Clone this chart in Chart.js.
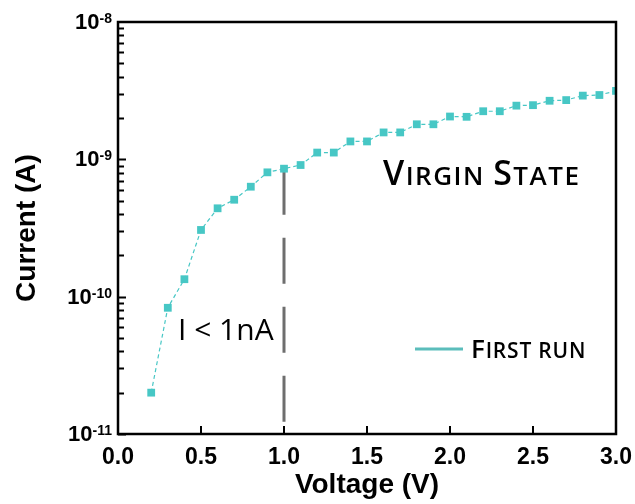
<!DOCTYPE html>
<html>
<head>
<meta charset="utf-8">
<title>Virgin state I-V</title>
<script src="https://cdn.jsdelivr.net/npm/chart.js@4.4.1/dist/chart.umd.min.js"></script>
<style>
  html, body { margin: 0; padding: 0; background: #fff; }
</style>
</head>
<body>
<canvas id="iv-chart" width="635" height="504"></canvas>
<script>
// I-V sweep, first run (virgin state)
const voltage = [0.2, 0.3, 0.4, 0.5, 0.6, 0.7, 0.8, 0.9, 1.0, 1.1, 1.2, 1.3, 1.4, 1.5,
                 1.6, 1.7, 1.8, 1.9, 2.0, 2.1, 2.2, 2.3, 2.4, 2.5, 2.6, 2.7, 2.8, 2.9, 3.0];
const current = [2.0e-11, 8.3e-11, 1.34e-10, 3.06e-10, 4.4e-10, 5.08e-10, 6.32e-10, 8.04e-10,
                 8.55e-10, 9.09e-10, 1.12e-9, 1.12e-9, 1.35e-9, 1.35e-9, 1.57e-9, 1.57e-9,
                 1.8e-9, 1.8e-9, 2.05e-9, 2.04e-9, 2.24e-9, 2.24e-9, 2.46e-9, 2.48e-9,
                 2.67e-9, 2.7e-9, 2.91e-9, 2.94e-9, 3.15e-9];

const thresholdVoltage = 1.0;
const xTicks = [0, 0.5, 1.0, 1.5, 2.0, 2.5, 3.0];
const yExponents = [-11, -10, -9, -8];

const teal = '#47c7c5';
const axisFont = '"Liberation Sans", Arial, sans-serif';
const noteFont = '"Open Sans", sans-serif';

const yMin = Math.pow(10, yExponents[0]);
const yMax = Math.pow(10, yExponents[yExponents.length - 1]);
const thresholdCurrent = current[voltage.indexOf(thresholdVoltage)];

// uppercase letters at full size, the rest as small capitals
function drawSmallCaps(ctx, text, x, y, bigSize, smallSize, spacing) {
    let cx = x;
    for (const ch of text) {
        const isBig = ch !== ' ' && ch === ch.toUpperCase();
        ctx.font = `600 ${isBig ? bigSize : smallSize}px ${noteFont}`;
        const c = ch.toUpperCase();
        ctx.fillText(c, cx, y);
        cx += ctx.measureText(c).width + spacing;
    }
}

const framePlugin = {
    id: 'frame',
    afterDraw(chart) {
        const { ctx, chartArea: area, scales } = chart;
        const xs = scales.x, ys = scales.y;
        ctx.save();
        ctx.strokeStyle = '#000';
        ctx.lineWidth = 2;

        // y ticks: decades long, 2..9 short, pointing inward
        ctx.beginPath();
        for (let e = yExponents[0]; e < yExponents[yExponents.length - 1]; e++) {
            for (let m = 1; m <= 9; m++) {
                const py = Math.round(ys.getPixelForValue(m * Math.pow(10, e))) + 0.5;
                ctx.moveTo(area.left, py);
                ctx.lineTo(area.left + (m === 1 ? 8 : 6), py);
            }
        }
        // x ticks
        xTicks.forEach(v => {
            const px = Math.round(xs.getPixelForValue(v));
            ctx.moveTo(px, area.bottom);
            ctx.lineTo(px, area.bottom - 8);
        });
        ctx.stroke();

        // plot box
        ctx.lineWidth = 2.5;
        ctx.strokeRect(area.left, area.top, area.right - area.left, area.bottom - area.top);

        // y tick labels with superscript exponents
        ctx.fillStyle = '#000';
        ctx.textAlign = 'right';
        yExponents.forEach(e => {
            const py = ys.getPixelForValue(Math.pow(10, e));
            const exp = String(e);
            ctx.font = `bold 14px ${axisFont}`;
            ctx.textBaseline = 'top';
            ctx.fillText(exp, 112, py - 10);
            const expW = ctx.measureText(exp).width;
            ctx.font = `bold 22px ${axisFont}`;
            ctx.textBaseline = 'middle';
            ctx.fillText('10', 112 - expW, py + 1);
        });

        // annotations
        ctx.textAlign = 'left';
        ctx.textBaseline = 'alphabetic';
        ctx.font = `30px ${noteFont}`;
        ctx.fillText('I < 1nA', 178, 340);
        drawSmallCaps(ctx, 'Virgin State', 383, 185, 34, 26, 1.5);

        // legend
        ctx.strokeStyle = '#5bbdbb';
        ctx.lineWidth = 3;
        ctx.beginPath();
        ctx.moveTo(415, 349);
        ctx.lineTo(463, 349);
        ctx.stroke();
        ctx.fillStyle = '#000';
        drawSmallCaps(ctx, 'First run', 471, 358, 26, 21, 0.8);
        ctx.restore();
    }
};

new Chart(document.getElementById('iv-chart'), {
    type: 'line',
    data: {
        datasets: [{
            label: 'First run',
            data: voltage.map((v, i) => ({ x: v, y: current[i] })),
            borderColor: teal,
            borderWidth: 1.2,
            borderDash: [4, 3],
            pointStyle: 'rect',
            pointRadius: 5.5,
            pointBackgroundColor: teal,
            pointBorderWidth: 0,
            tension: 0
        }, {
            label: 'I < 1nA',
            data: [{ x: thresholdVoltage, y: thresholdCurrent }, { x: thresholdVoltage, y: yMin }],
            borderColor: '#6e6e6e',
            borderWidth: 3,
            borderDash: [46, 23],
            pointRadius: 0
        }]
    },
    options: {
        responsive: false,
        animation: false,
        layout: { padding: { top: 22, right: 19, left: 0, bottom: 0 } },
        plugins: { legend: { display: false }, tooltip: { enabled: false } },
        scales: {
            x: {
                type: 'linear',
                min: 0,
                max: 3,
                ticks: {
                    stepSize: 0.5,
                    padding: 10,
                    color: '#000',
                    font: { family: axisFont, size: 23, weight: 'bold' },
                    callback: v => v.toFixed(1)
                },
                grid: { display: false, drawTicks: false },
                border: { display: false },
                title: {
                    display: true,
                    text: 'Voltage (V)',
                    color: '#000',
                    font: { family: axisFont, size: 28, weight: 'bold' },
                    padding: { top: 0, bottom: 2 }
                },
                afterFit: scale => {
                    scale.height = 70;
                    // let the end labels run past the plot box
                    scale.paddingLeft = 0;
                    scale.paddingRight = 0;
                }
            },
            y: {
                type: 'logarithmic',
                min: yMin,
                max: yMax,
                ticks: { display: false },
                grid: { display: false, drawTicks: false },
                border: { display: false },
                title: {
                    display: true,
                    text: 'Current (A)',
                    color: '#000',
                    font: { family: axisFont, size: 28, weight: 'bold' },
                    padding: { top: 10, bottom: 0 }
                },
                afterFit: scale => { scale.width = 118; }
            }
        }
    },
    plugins: [framePlugin]
});
</script>
</body>
</html>
